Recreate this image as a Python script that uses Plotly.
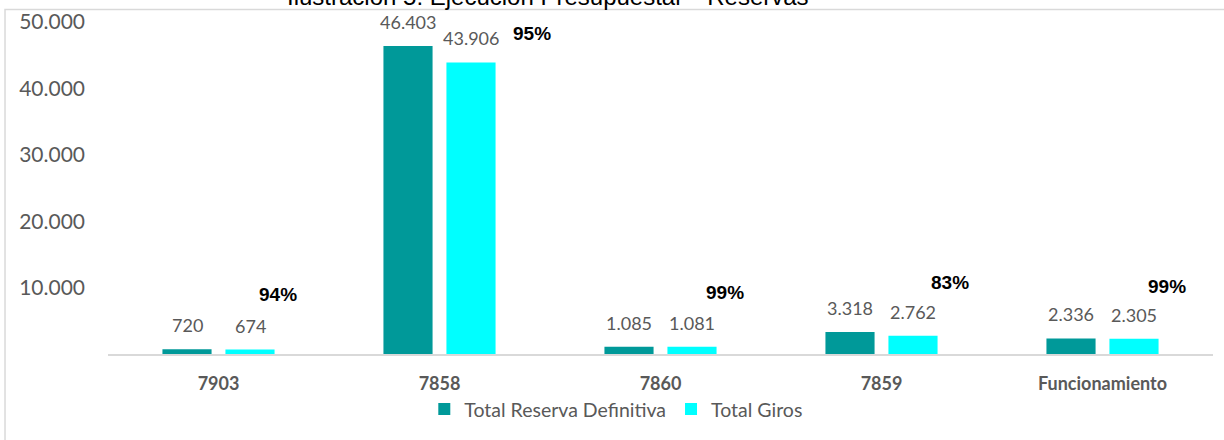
import plotly.graph_objects as go

# ---- data ----
categories = ["7903", "7858", "7860", "7859", "Funcionamiento"]
reserva_definitiva = [720, 46403, 1085, 3318, 2336]
total_giros = [674, 43906, 1081, 2762, 2305]
pct_ejecucion = [94, 95, 99, 83, 99]
y_tick_values = [10000, 20000, 30000, 40000, 50000]
y_tick_labels = ["10.000", "20.000", "30.000", "40.000", "50.000"]

# ---- placement of the percentage call-outs (manual, as in the source) ----
pct_label_y = [9000, 48200, 9200, 10700, 10100]
pct_label_dx = [59, 92, 64, 68, 64]

TEAL = "#009999"
CYAN = "#00FFFF"
GRAY = "#595959"
FONT = "Lato, 'Open Sans', sans-serif"

def fmt(v):
    return f"{v:,}".replace(",", ".")

fig = go.Figure()
fig.add_trace(go.Bar(name="Total Reserva Definitiva", x=categories, y=reserva_definitiva,
                     marker=dict(color=TEAL, line=dict(width=0))))
fig.add_trace(go.Bar(name="Total Giros", x=categories, y=total_giros,
                     marker=dict(color=CYAN, line=dict(width=0))))

annotations = []
for i, (a, b) in enumerate(zip(reserva_definitiva, total_giros)):
    for v, dx in ((a, -31.5), (b, 31.5)):
        annotations.append(dict(x=i, y=v, xref="x", yref="y", text=fmt(v), showarrow=False,
                                xshift=dx, yshift=24, yanchor="middle", xanchor="center",
                                font=dict(family=FONT, size=18, color=GRAY)))
for i, (p, py, dx) in enumerate(zip(pct_ejecucion, pct_label_y, pct_label_dx)):
    annotations.append(dict(x=i, y=py, xref="x", yref="y", text=f"<b>{p}%</b>", showarrow=False,
                            xshift=dx, yanchor="middle", xanchor="center",
                            font=dict(family="'Liberation Sans', Arial, sans-serif",
                                      size=19, color="#000000")))
# clipped title at the very top
annotations.append(dict(x=0.398, y=1, xref="paper", yref="paper", yanchor="bottom", xanchor="center",
                        yshift=10, showarrow=False,
                        text="Ilustración 5: Ejecución Presupuestal – Reservas",
                        font=dict(family="'Liberation Sans', Arial, sans-serif", size=24, color="#000000")))

fig.update_layout(
    width=1224, height=440,
    margin=dict(l=108, r=11, t=22, b=86, autoexpand=False),
    paper_bgcolor="white", plot_bgcolor="white",
    barmode="group", bargap=0.43, bargroupgap=0.22,
    separators=",.",
    font=dict(family=FONT, color=GRAY),
    showlegend=True,
    legend=dict(orientation="h", x=0.46, xanchor="center", y=-0.108, yanchor="top",
                font=dict(family=FONT, size=19.5, color=GRAY), itemwidth=30,
                bgcolor="rgba(0,0,0,0)"),
    annotations=annotations,
    shapes=[dict(type="rect", xref="paper", yref="paper", x0=-0.0932, x1=1.2, y0=-0.5, y1=1.0377,
                 line=dict(color="#D9D9D9", width=1.5), fillcolor="rgba(0,0,0,0)", layer="below")],
)
fig.update_xaxes(type="category", showgrid=False, zeroline=False, showline=True,
                 linecolor="#D9D9D9", linewidth=2, ticks="", ticklabelstandoff=12,
                 tickfont=dict(family=FONT, size=18, color=GRAY, weight="bold"))
fig.update_yaxes(range=[0, 50000], tickvals=y_tick_values, ticktext=y_tick_labels,
                 showgrid=False, zeroline=False, showline=False, ticks="",
                 ticklabelstandoff=22, tickfont=dict(family=FONT, size=21, color=GRAY))

fig.write_html("out.html", config={"displayModeBar": False})

# remove the browser's default page margin so the figure sits at the window's top-left corner
with open("out.html", "r", encoding="utf-8") as f:
    html = f.read()
html = html.replace("<head>", "<head><style>html,body{margin:0;padding:0;}</style>", 1)
with open("out.html", "w", encoding="utf-8") as f:
    f.write(html)
